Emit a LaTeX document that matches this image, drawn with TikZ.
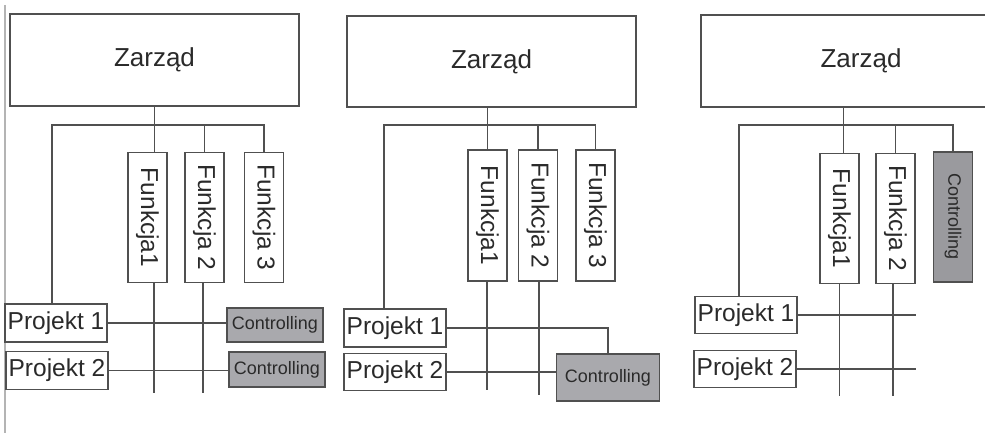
\documentclass[tikz,border=0pt]{standalone}
\usepackage{fontspec}
\setmainfont{Liberation Sans}
\usepackage{graphicx}

\definecolor{linegray}{HTML}{505050}
\definecolor{textgray}{HTML}{2A2A2A}
\definecolor{edgegray}{HTML}{B4B4B4}
\definecolor{ctrlgray}{HTML}{A9A9AD}
\definecolor{ctrldark}{HTML}{9A9A9E}

\begin{document}
\begin{tikzpicture}[
    x=0.5pt, y=-0.5pt,
    line width=0.6pt,
    every node/.style={
      rectangle,
      draw=linegray,
      text=textgray,
      inner sep=1pt,
      font=\fontsize{12.25}{14}\selectfont
    },
    board/.style={minimum width=144.5pt, minimum height=46pt,
      font=\fontsize{13}{15}\selectfont},
    func/.style={minimum width=19.5pt, minimum height=65pt},
    proj/.style={minimum width=51pt, minimum height=19pt},
    ctrl/.style={fill=ctrlgray, font=\fontsize{9}{11}\selectfont}
    ]
    \useasboundingbox (0,0) rectangle (985,433);
    \draw[edgegray] (5,5) -- (5,433);

    % first variant
    \node[board] (zarzad_a) at (154.5,60) {Zarząd};
    \foreach \n/\x/\t in {1/147.5/Funkcja1,2/204.5/Funkcja 2,3/264/Funkcja 3}{
      \node[func] (f\n_a) at (\x,217.5) {\rotatebox{-90}{\t}};
    }
    \node[proj] (p1_a) at (56,323) {Projekt 1};
    \node[proj] (p2_a) at (57,370.5) {Projekt 2};
    \node[ctrl, minimum width=48pt, minimum height=17pt] (c1_a) at (275,325) {Controlling};
    \node[ctrl, minimum width=48pt, minimum height=17.5pt] (c2_a) at (277,369.5) {Controlling};
    \coordinate (bus_a) at (154,125);
    \coordinate (e1_a) at (154,393);
    \coordinate (e2_a) at (203,393);

    % second variant
    \node[board, minimum height=45.5pt] (zarzad_b) at (491.5,61.5) {Zarząd};
    \foreach \n/\x/\t in {1/487.5/Funkcja1,2/538/Funkcja 2,3/595.5/Funkcja 3}{
      \node[func, minimum height=65.5pt] (f\n_b) at (\x,215.5) {\rotatebox{-90}{\t}};
    }
    \node[proj] (p1_b) at (395,328) {Projekt 1};
    \node[proj, minimum height=18.5pt] (p2_b) at (395,372) {Projekt 2};
    \node[ctrl, minimum width=51.5pt, minimum height=23.5pt] (c_b) at (608,377.5)
      {\raisebox{-1.5pt}{Controlling}};
    \coordinate (bus_b) at (487,125);
    \coordinate (e1_b) at (487,390);
    \coordinate (e2_b) at (539,395);

    % third variant
    \node[board, minimum width=160pt] (zarzad_c) at (861,61) {Zarząd};
    \foreach \n/\x/\t in {1/839.5/Funkcja1,2/895.5/Funkcja 2}{
      \node[func] (f\n_c) at (\x,218.5) {\rotatebox{-90}{\t}};
    }
    \node[ctrl, func, fill=ctrldark] (c_c) at (953,217) {\rotatebox{-90}{Controlling}};
    \node[proj, minimum height=18.5pt] (p1_c) at (746,315) {Projekt 1};
    \node[proj, minimum height=18.5pt] (p2_c) at (745,369) {Projekt 2};
    \coordinate (bus_c) at (844,125);
    \coordinate (e1_c) at (839.5,396);
    \coordinate (e2_c) at (893,396);
    \coordinate (q1_c) at (916,315);
    \coordinate (q2_c) at (916,369);

    \draw[linegray]
    (zarzad_a.south) -- (zarzad_a.south |- f1_a.north)
    ([xshift=-2pt]p1_a.north) |- (bus_a) -| (f3_a.north)
    (f2_a.north) -- (f2_a.north |- bus_a)
    (f1_a.south -| e1_a) -- (e1_a)
    (f2_a.south -| e2_a) -- (e2_a)
    (p1_a.east) -- (p1_a.east -| c1_a.west)
    (p2_a.east) -- (p2_a.east -| c2_a.west)
    (f1_b.north) -- (f1_b.north |- zarzad_b.south)
    ([xshift=-5.5pt]p1_b.north) |- (bus_b) -| (f3_b.north)
    (f2_b.north) -- (f2_b.north |- bus_b)
    (f1_b.south -| e1_b) -- (e1_b)
    (f2_b.south -| e2_b) -- (e2_b)
    (p1_b.east) -| (c_b.north)
    (p2_b.east) -- (p2_b.east -| c_b.west)
    ([xshift=2pt]f1_c.north) -- ([xshift=2pt]f1_c.north |- zarzad_c.south)
    ([xshift=-3.5pt]p1_c.north) |- (bus_c) -| (c_c.north)
    (f2_c.north) -- (f2_c.north |- bus_c)
    (f1_c.south) -- (e1_c)
    (f2_c.south -| e2_c) -- (e2_c)
    (p1_c.east) -- (q1_c)
    (p2_c.east) -- (q2_c)
    ;
\end{tikzpicture}
\end{document}
